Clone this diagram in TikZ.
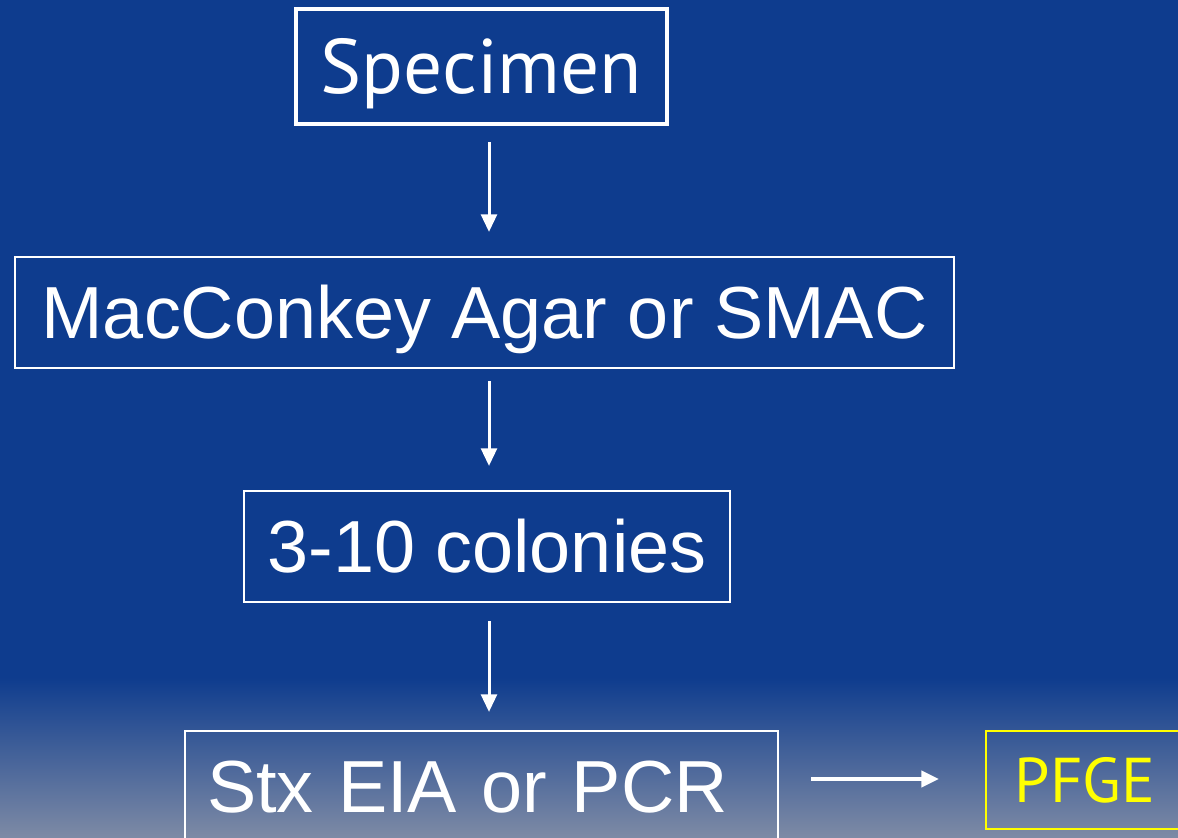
\documentclass[tikz,border=0pt]{standalone}
\usepackage{fontspec}
\setmainfont{Liberation Sans}
\newfontfamily\humanfont{PT Sans}
\usetikzlibrary{arrows.meta,positioning}
\definecolor{slideblue}{HTML}{0E3C8E}
\definecolor{slidegray}{HTML}{7D8AA5}
\definecolor{pfgeyellow}{HTML}{FFFF00}

\begin{document}
\begin{tikzpicture}[
    stepbox/.style={draw=white,text=white,line width=0.6pt,minimum height=1.11cm,
      inner xsep=0.22cm,font=\fontsize{21}{24}\selectfont,text height=15pt,text depth=0pt},
    flow/.style={-{Triangle[width=4.5pt,length=5pt]},white,line width=0.85pt}
  ]
  % Background
  \useasboundingbox (0,0) rectangle (11.78,8.37);
  \fill[slideblue] (0,0) rectangle (11.78,8.37);
  \shade[top color=slideblue,bottom color=slidegray] (0,0) rectangle (11.78,1.6);
  % Boxes
  \node[stepbox,line width=1.2pt,font=\humanfont\fontsize{22}{26}\selectfont,text height=15.4pt,
    minimum width=3.71cm,minimum height=1.15cm] (spec) at (4.815,7.705) {Specimen};
  \node[stepbox,minimum width=9.39cm] (mac) at (4.845,5.245) {MacConkey Agar or SMAC};
  \node[stepbox,minimum width=4.86cm] (colonies) at (4.87,2.905) {3-10 colonies};
  \node[stepbox,text width=5.49cm,align=left] (stx) at (4.815,0.505) {Stx EIA or PCR};
  \node[stepbox,draw=pfgeyellow,text=pfgeyellow,font=\humanfont\fontsize{18}{22}\selectfont,
    text height=12.6pt,minimum width=1.98cm,minimum height=0.98cm] (pfge) at (10.85,0.57) {PFGE};
  % Arrows
  \draw[flow,shorten <=0.16cm,shorten >=0.24cm] (spec.south -| 4.89,0) -- (mac.north -| 4.89,0);
  \draw[flow,shorten <=0.12cm,shorten >=0.24cm] (mac.south -| 4.89,0) -- (colonies.north -| 4.89,0);
  \draw[flow,shorten <=0.18cm,shorten >=0.18cm] (colonies.south -| 4.89,0) -- (stx.north -| 4.89,0);
  \draw[flow,line width=1.2pt,shorten <=0.32cm,shorten >=0.46cm] (stx.east |- 0,0.58) -- (pfge.west |- 0,0.58);
\end{tikzpicture}
\end{document}
